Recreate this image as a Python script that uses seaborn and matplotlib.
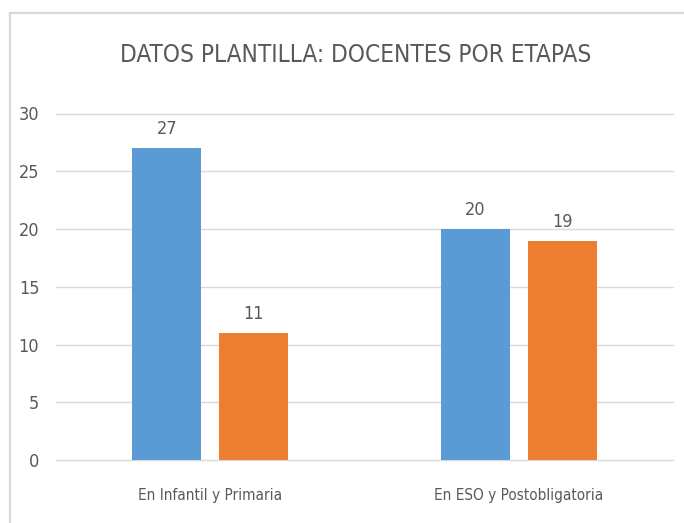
import pandas as pd
import matplotlib.pyplot as plt
import seaborn as sns
from matplotlib.lines import Line2D

# Datos de la plantilla
etapas = ['En Infantil y Primaria', 'En ESO y Postobligatoria']
serie_1 = [27, 20]
serie_2 = [11, 19]
nombres_series = ['Serie 1', 'Serie 2']
colores = ['#5B9BD5', '#ED7D31']
yticks = [0, 5, 10, 15, 20, 25, 30]

df = pd.DataFrame({
    'etapa': etapas * 2,
    'serie': [nombres_series[0]] * 2 + [nombres_series[1]] * 2,
    'valor': serie_1 + serie_2,
})

sns.set_theme(style='white')
plt.rcParams['font.family'] = ['DejaVu Sans']
plt.rcParams['font.stretch'] = 'condensed'
gris_texto = '#595959'

fig = plt.figure(figsize=(6.84, 5.23), dpi=100)
ax = fig.add_axes([56 / 684, 1 - 460 / 523, (673 - 56) / 684, (460 - 113.5) / 523])

sns.barplot(data=df, x='etapa', y='valor', hue='serie', order=etapas,
            hue_order=nombres_series, palette=colores, width=0.564, gap=0.206,
            saturation=1, legend=False, linewidth=0, ax=ax)

for cont in ax.containers:
    ax.bar_label(cont, padding=7, fontsize=13, color=gris_texto)

ax.set_ylim(0, 30)
ax.set_yticks(yticks)
ax.grid(axis='y', color='#D9D9D9', linewidth=1)
for linea in ax.get_ygridlines():
    linea.set_clip_on(False)
ax.set_axisbelow(True)
for s in ax.spines.values():
    s.set_visible(False)
ax.set_xlabel('')
ax.set_ylabel('')
ax.tick_params(axis='y', length=0, pad=12, labelsize=13, labelcolor=gris_texto)
ax.tick_params(axis='x', length=0, pad=20, labelsize=11, labelcolor=gris_texto)

fig.text(356 / 684, 1 - 55 / 523, 'DATOS PLANTILLA: DOCENTES POR ETAPAS',
         ha='center', va='center', fontsize=17.5, color=gris_texto)

# marco del gráfico
fig.add_artist(Line2D([10 / 684, 1], [1 - 13 / 523, 1 - 13 / 523],
                      color='#D9D9D9', linewidth=1.6))
fig.add_artist(Line2D([10 / 684, 10 / 684], [0, 1 - 13 / 523],
                      color='#D9D9D9', linewidth=1.6))

fig.savefig('out.png', dpi=100)
